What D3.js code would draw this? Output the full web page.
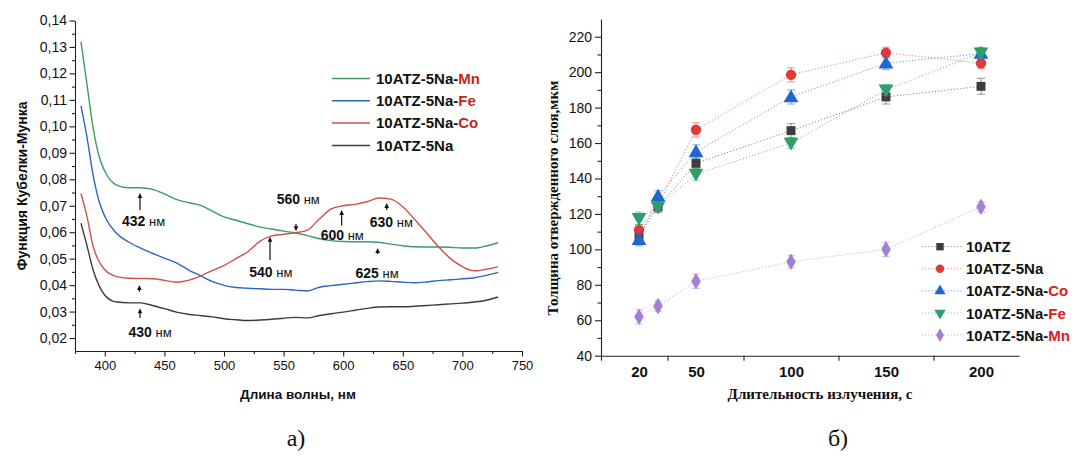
<!DOCTYPE html>
<html>
<head>
<meta charset="utf-8">
<script src="https://cdn.jsdelivr.net/npm/d3@7"></script>
<style>
  body { margin: 0; background: #fff; }
  svg { display: block; }
  text { font-family: "Liberation Sans", Arial, sans-serif; fill: #111; }
  .serif { font-family: "Liberation Serif", "Times New Roman", serif; }
</style>
</head>
<body>
<svg id="chart" width="1090" height="466"></svg>
<script>
// ---------- Panel а): Kubelka–Munk spectra ----------
const wavelengths = [380, 385, 390, 395, 400, 410, 420, 430, 440, 450, 460, 470, 480, 490, 500,
  510, 520, 530, 540, 550, 560, 570, 580, 590, 600, 610, 620, 630, 640, 650, 660, 670, 680,
  690, 700, 710, 720, 730];

const kmMn = [0.132, 0.116, 0.100, 0.089, 0.083, 0.0778, 0.0768, 0.0768, 0.0762, 0.0745, 0.0724,
  0.0712, 0.0702, 0.0680, 0.0658, 0.0645, 0.0632, 0.0620, 0.0612, 0.0604, 0.0597, 0.0587, 0.0575,
  0.0568, 0.0565, 0.0564, 0.0564, 0.0562, 0.0555, 0.0549, 0.0545, 0.0544, 0.0544, 0.0543, 0.0540,
  0.0540, 0.0548, 0.0560];

const kmFe = [0.1077, 0.096, 0.082, 0.072, 0.066, 0.0595, 0.0563, 0.0540, 0.0520, 0.0502, 0.0484,
  0.0458, 0.0436, 0.0414, 0.0399, 0.0391, 0.0388, 0.0386, 0.0384, 0.0384, 0.0381, 0.0378, 0.0392,
  0.0398, 0.0403, 0.0408, 0.0413, 0.0416, 0.0414, 0.0411, 0.0409, 0.0412, 0.0417, 0.0420, 0.0424,
  0.0428, 0.0437, 0.0448];

const kmCo = [0.0746, 0.066, 0.055, 0.049, 0.0458, 0.0432, 0.0426, 0.0425, 0.0424, 0.0418, 0.0411,
  0.0418, 0.0434, 0.0455, 0.0474, 0.0500, 0.0526, 0.0565, 0.0586, 0.0592, 0.0598, 0.0608, 0.0650,
  0.0688, 0.0700, 0.0705, 0.0715, 0.0729, 0.0725, 0.0696, 0.0648, 0.0597, 0.0545, 0.0500, 0.0470,
  0.0454, 0.0460, 0.0470];

const kmBase = [0.0634, 0.055, 0.0460, 0.040, 0.0362, 0.0336, 0.0333, 0.0333, 0.0323, 0.0311, 0.0298,
  0.0290, 0.0285, 0.0280, 0.0273, 0.0269, 0.0266, 0.0268, 0.0271, 0.0275, 0.0278, 0.0276, 0.0285,
  0.0292, 0.0298, 0.0305, 0.0312, 0.0317, 0.0318, 0.0318, 0.0320, 0.0323, 0.0326, 0.0329, 0.0332,
  0.0336, 0.0343, 0.0355];

const spectraPrefix = ["10ATZ-5Na-", "10ATZ-5Na-", "10ATZ-5Na-", "10ATZ-5Na"];
const spectraMetal = ["Mn", "Fe", "Co", ""];
const spectraColors = ["#3d9c62", "#2a66c4", "#d0504e", "#3c3c3c"];

const wlTicks = [400, 450, 500, 550, 600, 650, 700, 750];
const wlMinorTicks = [375, 425, 475, 525, 575, 625, 675, 725];
const kmTicks = [0.02, 0.03, 0.04, 0.05, 0.06, 0.07, 0.08, 0.09, 0.10, 0.11, 0.12, 0.13, 0.14];
const kmMinorTicks = [0.025, 0.035, 0.045, 0.055, 0.065, 0.075, 0.085, 0.095, 0.105, 0.115, 0.125, 0.135];

// peak annotations: label (nm), arrow x (nm), arrow tail/tip values, label anchor (nm, value)
const peakLabels = ["432", "", "430", "540", "560", "600", "630", "625"];
const peakArrowX = [429.5, 429, 429.5, 538.6, 560.4, 598.7, 636.5, 628.9];
const peakTail = [0.0684, 0.0375, 0.0276, 0.0495, 0.0631, 0.0624, 0.0684, 0.0518];
const peakTip = [0.0748, 0.0400, 0.0313, 0.0583, 0.0604, 0.0684, 0.0710, 0.0540];
const peakTextX = [432.5, 0, 438, 539.3, 562.3, 599.2, 640.4, 628.4];
const peakTextY = [0.0623, 0, 0.0204, 0.0429, 0.0708, 0.0570, 0.0620, 0.0427];

// ---------- Panel б): cured layer thickness ----------
const durations = [20, 30, 50, 100, 150, 200];
const thkNames = ["10ATZ", "10ATZ-5Na", "10ATZ-5Na-", "10ATZ-5Na-", "10ATZ-5Na-"];
const thkMetal = ["", "", "Co", "Fe", "Mn"];
const thkATZ = [108, 124, 148.5, 167, 186, 192];
const thkNa = [111, 125, 167.5, 198.5, 211, 205];
const thkCo = [105.5, 130, 155, 186, 205, 210.5];
const thkFe = [117.5, 124, 142.5, 160, 190, 211];
const thkMn = [62, 68, 82, 93, 100, 124];
const errATZ = [3, 3, 3, 4, 4, 4.5];
const errNa = [3, 3, 4, 4, 3, 3];
const errCo = [3.5, 3, 4, 4, 3.5, 3];
const errFe = [3.5, 3, 3.5, 3, 3, 3];
const errMn = [4, 3, 4, 3.5, 4, 3];
const thkColors = ["#3d3d3d", "#e03a3a", "#1f66cf", "#2e9e6a", "#a57fd6"];
const thkSymbols = [d3.symbolSquare, d3.symbolCircle, d3.symbolTriangle, d3.symbolTriangle, d3.symbolDiamond];

const durTickLabels = [20, 50, 100, 150, 200];
const durTickMarks = [0, 35, 75, 125, 175];
const thkTicks = [40, 60, 80, 100, 120, 140, 160, 180, 200, 220];
const thkMinorTicks = [50, 70, 90, 110, 130, 150, 170, 190, 210];

const svg = d3.select("#chart");
const metalRed = "#cc1f1f";

// ===== Panel а) =====
const xL = d3.scaleLinear().domain([375, 750]).range([75, 522]);
const yL = d3.scaleLinear().domain([0.0151, 0.14]).range([351, 20.5]);
const gL = svg.append("g");
const comma = d => d.toFixed(2).replace(".", ",");

// y axis
const yAxisL = gL.append("g").attr("transform", "translate(75,0)")
  .call(d3.axisLeft(yL).tickValues(kmTicks).tickFormat(comma).tickSize(5.5).tickSizeOuter(0));
yAxisL.selectAll("text").style("font-size", "14px").attr("x", -8);
gL.append("g").attr("transform", "translate(75,0)")
  .call(d3.axisLeft(yL).tickValues(kmMinorTicks).tickFormat("").tickSize(3).tickSizeOuter(0))
  .select(".domain").remove();

// x axis
const xAxisL = gL.append("g").attr("transform", "translate(0,351)")
  .call(d3.axisBottom(xL).tickValues(wlTicks).tickSize(5.5).tickSizeOuter(0));
xAxisL.selectAll("text").style("font-size", "13px").attr("y", 10);
gL.append("g").attr("transform", "translate(0,351)")
  .call(d3.axisBottom(xL).tickValues(wlMinorTicks).tickFormat("").tickSize(3).tickSizeOuter(0))
  .select(".domain").remove();
gL.selectAll(".domain, .tick line").attr("stroke", "#222").attr("stroke-width", 1.1);

// axis titles
gL.append("text").attr("x", 298).attr("y", 399).attr("text-anchor", "middle")
  .style("font-size", "13.5px").style("font-weight", "bold").text("Длина волны, нм");
gL.append("text").attr("transform", "translate(27,186) rotate(-90)").attr("text-anchor", "middle")
  .style("font-size", "14px").style("font-weight", "bold").text("Функция Кубелки-Мунка");

// spectra
const spectra = [kmMn, kmFe, kmCo, kmBase];
const lineL = d3.line().x((d, i) => xL(wavelengths[i])).y(d => yL(d)).curve(d3.curveMonotoneX);
spectra.forEach((s, k) => {
  gL.append("path").datum(s).attr("d", lineL).attr("fill", "none")
    .attr("stroke", spectraColors[k]).attr("stroke-width", 1.4);
});

// legend
spectra.forEach((s, k) => {
  const y = 78.5 + k * 22.3;
  gL.append("line").attr("x1", 332).attr("x2", 370).attr("y1", y).attr("y2", y)
    .attr("stroke", spectraColors[k]).attr("stroke-width", 1.5);
  const t = gL.append("text").attr("x", 376).attr("y", y + 5.3)
    .style("font-size", "15px").style("font-weight", "bold");
  t.append("tspan").text(spectraPrefix[k]);
  if (spectraMetal[k]) t.append("tspan").style("fill", metalRed).text(spectraMetal[k]);
});

// peak arrows and labels
peakLabels.forEach((lab, i) => {
  const x = xL(peakArrowX[i]);
  const yTail = yL(peakTail[i]), yTip = yL(peakTip[i]);
  const dir = yTip < yTail ? -1 : 1;
  gL.append("line").attr("x1", x).attr("x2", x).attr("y1", yTail).attr("y2", yTip - dir * 3)
    .attr("stroke", "#111").attr("stroke-width", 1.2);
  gL.append("path")
    .attr("d", `M${x},${yTip} L${x - 2.3},${yTip - dir * 5} L${x + 2.3},${yTip - dir * 5} Z`)
    .attr("fill", "#111");
  if (lab) {
    const t = gL.append("text").attr("x", xL(peakTextX[i])).attr("y", yL(peakTextY[i]))
      .attr("text-anchor", "middle");
    t.append("tspan").style("font-size", "14px").style("font-weight", "bold").text(lab);
    t.append("tspan").style("font-size", "13px").text(" нм");
  }
});

// ===== Panel б) =====
const xR = d3.scaleLinear().domain([0, 220]).range([601, 1019]);
const yR = d3.scaleLinear().domain([40, 230]).range([355.7, 19]);
const gR = svg.append("g");

const yAxisR = gR.append("g").attr("transform", "translate(601,0)")
  .call(d3.axisLeft(yR).tickValues(thkTicks).tickSize(6).tickSizeOuter(0));
yAxisR.selectAll("text").style("font-size", "14px").attr("x", -9);
gR.append("g").attr("transform", "translate(601,0)")
  .call(d3.axisLeft(yR).tickValues(thkMinorTicks).tickFormat("").tickSize(3.5).tickSizeOuter(0))
  .select(".domain").remove();

const xAxisR = gR.append("g").attr("transform", "translate(0,355.7)")
  .call(d3.axisBottom(xR).tickValues(durTickLabels).tickSize(0).tickSizeOuter(0));
xAxisR.selectAll("text").style("font-size", "15px").style("font-weight", "bold").attr("y", 11);
gR.append("g").attr("transform", "translate(0,355.7)")
  .call(d3.axisBottom(xR).tickValues(durTickMarks).tickFormat("").tickSize(5).tickSizeOuter(0))
  .select(".domain").remove();
gR.selectAll(".domain, .tick line").attr("stroke", "#222").attr("stroke-width", 1.1);

gR.append("text").attr("class", "serif").attr("x", 820).attr("y", 399).attr("text-anchor", "middle")
  .style("font-size", "15px").style("font-weight", "bold").text("Длительность излучения, с");
gR.append("text").attr("class", "serif").attr("transform", "translate(558,198) rotate(-90)")
  .attr("text-anchor", "middle").style("font-size", "15px").style("font-weight", "bold")
  .text("Толщина отвержденного слоя,мкм");

const thkSeries = [thkATZ, thkNa, thkCo, thkFe, thkMn];
const errSeries = [errATZ, errNa, errCo, errFe, errMn];
const symSizes = [80, 85, 95, 95, 80];
const lineR = d3.line().x((d, i) => xR(durations[i])).y(d => yR(d));

const symbolPath = (k) => d3.symbol().type(thkSymbols[k]).size(symSizes[k])();

thkSeries.forEach((s, k) => {
  const g = gR.append("g");
  g.append("path").datum(s).attr("d", lineR).attr("fill", "none")
    .attr("stroke", thkColors[k]).attr("stroke-opacity", 0.65).attr("stroke-width", 1)
    .attr("stroke-dasharray", "1.2,2");
  s.forEach((v, i) => {
    const x = xR(durations[i]);
    const e = errSeries[k][i];
    const y1 = yR(v + e), y2 = yR(v - e);
    g.append("line").attr("x1", x).attr("x2", x).attr("y1", y1).attr("y2", y2)
      .attr("stroke", thkColors[k]).attr("stroke-opacity", 0.45).attr("stroke-width", 1.2);
    [y1, y2].forEach(yy => g.append("line").attr("x1", x - 4).attr("x2", x + 4)
      .attr("y1", yy).attr("y2", yy).attr("stroke", thkColors[k]).attr("stroke-opacity", 0.45)
      .attr("stroke-width", 1.2));
    const rot = k === 3 ? 180 : 0;
    g.append("path").attr("d", symbolPath(k))
      .attr("transform", `translate(${x},${yR(v) + (k === 2 ? 1 : k === 3 ? -1 : 0)}) rotate(${rot})`)
      .attr("fill", thkColors[k]);
  });
});

// legend
thkSeries.forEach((s, k) => {
  const y = 246.7 + k * 22.1;
  gR.append("line").attr("x1", 922).attr("x2", 963).attr("y1", y).attr("y2", y)
    .attr("stroke", thkColors[k]).attr("stroke-opacity", 0.6).attr("stroke-dasharray", "1.2,2");
  gR.append("path").attr("d", d3.symbol().type(thkSymbols[k]).size(55)())
    .attr("transform", `translate(940,${y}) rotate(${k === 3 ? 180 : 0})`).attr("fill", thkColors[k]);
  const t = gR.append("text").attr("x", 966).attr("y", y + 5.5)
    .style("font-size", "15px").style("font-weight", "bold");
  t.append("tspan").text(thkNames[k]);
  if (thkMetal[k]) t.append("tspan").style("fill", "#e02020").text(thkMetal[k]);
});

// panel captions
svg.append("text").attr("class", "serif").attr("x", 296).attr("y", 446).attr("text-anchor", "middle")
  .style("font-size", "24px").text("а)");
svg.append("text").attr("class", "serif").attr("x", 838).attr("y", 446).attr("text-anchor", "middle")
  .style("font-size", "24px").text("б)");
</script>
</body>
</html>
